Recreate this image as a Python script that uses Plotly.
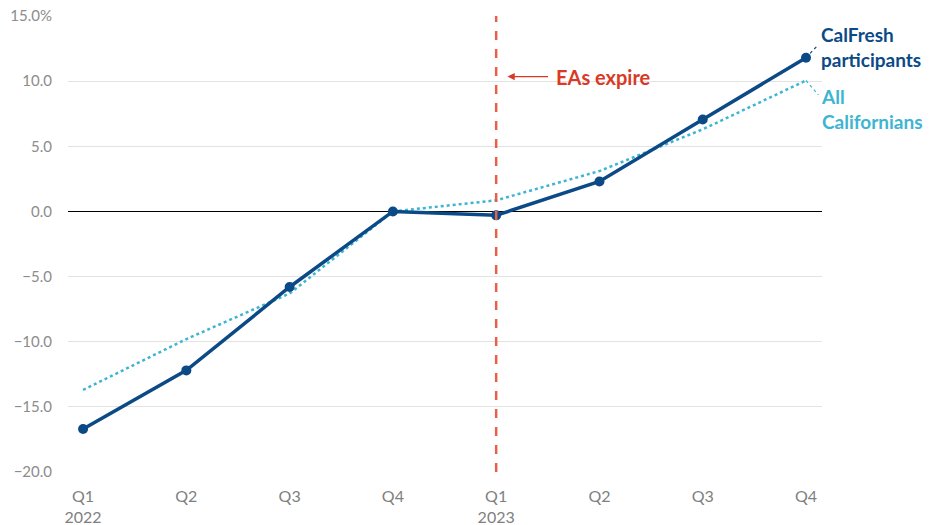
import plotly.graph_objects as go

quarters = ["Q1<br>2022", "Q2", "Q3", "Q4", "Q1<br>2023", "Q2", "Q3", "Q4"]
calfresh = [-16.7, -12.2, -5.8, 0.0, -0.3, 2.3, 7.05, 11.8]
all_ca = [-13.7, -9.8, -6.3, 0.0, 0.85, 3.1, 6.3, 10.05]
y_ticks = [15, 10, 5, 0, -5, -10, -15, -20]
y_ticktext = ["15.0%", "10.0", "5.0", "0.0", "\u22125.0", "\u221210.0", "\u221215.0", "\u221220.0"]

DARK = "#0B4A86"
LIGHT = "#3DB5D2"
RED = "#D93A26"
FONT = "Lato"

x = list(range(len(quarters)))

fig = go.Figure()
fig.add_trace(go.Scatter(x=x, y=all_ca, mode="lines",
                         line=dict(color=LIGHT, width=2.5, dash="dot"),
                         hoverinfo="skip", showlegend=False))
fig.add_trace(go.Scatter(x=x, y=calfresh, mode="lines+markers",
                         line=dict(color=DARK, width=3.5),
                         marker=dict(color=DARK, size=10),
                         showlegend=False))

# EA expiration line
fig.add_shape(type="line", xref="x", x0=4, x1=4, yref="paper", y0=0, y1=1,
              line=dict(color="#E8604C", width=2.5, dash="dash"))

# leader lines to labels
last = len(x) - 1
fig.add_shape(type="line", xref="x", x0=last, x1=last + 0.12, y0=calfresh[-1], y1=calfresh[-1] + 1.0,
              line=dict(color=DARK, width=1.2, dash="dot"))
fig.add_shape(type="line", xref="x", x0=last, x1=last + 0.12, y0=all_ca[-1], y1=all_ca[-1] - 1.1,
              line=dict(color=LIGHT, width=1.2, dash="dot"))

fig.add_annotation(x=last + 0.13, y=calfresh[-1] + 0.85, xref="x", yref="y",
                   text="<b>CalFresh<br>participants</b>", showarrow=False,
                   xanchor="left", yanchor="middle", align="left",
                   font=dict(family=FONT, size=19, color=DARK))
fig.add_annotation(x=last + 0.13, y=all_ca[-1] - 2.2, xref="x", yref="y",
                   text="<b>All<br>Californians</b>", showarrow=False,
                   xanchor="left", yanchor="middle", align="left",
                   font=dict(family=FONT, size=19, color=LIGHT))

# EAs expire annotation
fig.add_annotation(x=4.56, y=10.35, xref="x", yref="y", text="<b>EAs expire</b>",
                   showarrow=False, xanchor="left", yanchor="middle",
                   font=dict(family=FONT, size=20, color=RED))
fig.add_annotation(x=4.11, y=10.35, xref="x", yref="y", text="",
                   showarrow=True, ax=42, ay=0, arrowhead=2, arrowsize=1.2,
                   arrowwidth=1.2, arrowcolor=RED)

fig.update_layout(
    width=943, height=525,
    margin=dict(l=68, r=121, t=16, b=53),
    plot_bgcolor="white", paper_bgcolor="white",
    font=dict(family=FONT, size=14, color="#888888"),
    xaxis=dict(tickmode="array", tickvals=x, ticktext=quarters,
               range=[-0.146, 7.155], showgrid=False, zeroline=False,
               showline=False, ticks="outside", ticklen=10, tickcolor="white",
               automargin=False, tickfont=dict(size=16, color="#7f7f7f")),
    yaxis=dict(tickmode="array", tickvals=y_ticks, ticktext=y_ticktext,
               range=[-20, 15], showgrid=True, gridcolor="#E3E3E3", gridwidth=1,
               zeroline=True, zerolinecolor="#000000", zerolinewidth=1,
               showline=False, ticks="outside", ticklen=12, automargin=False,
               tickcolor="white", tickfont=dict(size=15, color="#8c8c8c")),
)

fig.write_html("out.html")
